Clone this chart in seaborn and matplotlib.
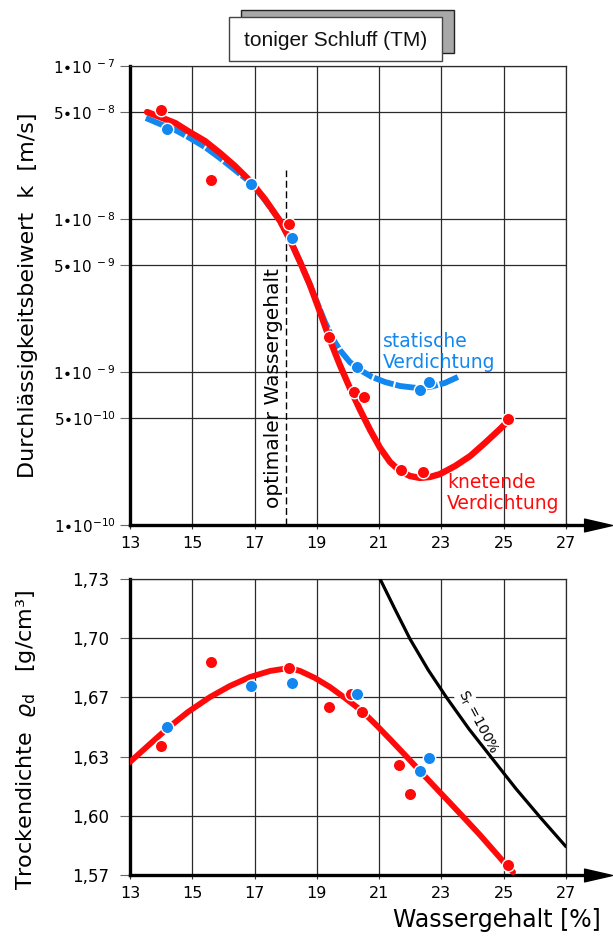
import numpy as np
import matplotlib
matplotlib.use("Agg")
import matplotlib.pyplot as plt
import seaborn as sns
from matplotlib.patches import Rectangle
from matplotlib.path import Path

# ---------------- data ----------------
# x axis: water content [%]
w_ticks = [13, 15, 17, 19, 21, 23, 25, 27]
w_tick_labels = ["13", "15", "17", "19", "21", "23", "25", "27"]

# top panel: permeability k [m/s]
k_ticks = [1e-10, 5e-10, 1e-9, 5e-9, 1e-8, 5e-8, 1e-7]
k_tick_labels = [r"1•10$^{\mathregular{-10}}$", r"5•10$^{\mathregular{-10}}$",
                 r"1•10$^{\mathregular{\ -9}}$", r"5•10$^{\mathregular{\ -9}}$",
                 r"1•10$^{\mathregular{\ -8}}$", r"5•10$^{\mathregular{\ -8}}$",
                 r"1•10$^{\mathregular{\ -7}}$"]

# kneading compaction (red) - measured points
w_knet_k = [14.0, 15.6, 18.1, 19.4, 20.2, 20.5, 21.7, 22.4, 25.15]
k_knet = [5.16e-8, 1.80e-8, 9.3e-9, 1.69e-9, 7.4e-10, 6.9e-10, 2.29e-10, 2.22e-10, 4.93e-10]
# kneading compaction - fitted curve
w_knet_k_fit = [13.55, 13.96, 14.45, 14.86, 15.41, 15.89, 16.37, 16.89, 17.33, 17.82,
                18.14, 18.46, 18.78, 19.10, 19.42, 19.74, 20.06, 20.39, 20.71, 21.03,
                21.35, 21.67, 21.99, 22.31, 22.63, 22.95, 23.44, 23.92, 24.40, 24.88, 25.20]
k_knet_fit = [5.00e-8, 4.64e-8, 4.24e-8, 3.76e-8, 3.23e-8, 2.70e-8, 2.22e-8, 1.745e-8, 1.35e-8, 9.70e-9,
              7.29e-9, 5.24e-9, 3.70e-9, 2.47e-9, 1.62e-9, 1.11e-9, 7.86e-10, 5.64e-10, 4.18e-10, 3.19e-10,
              2.58e-10, 2.25e-10, 2.09e-10, 2.03e-10, 2.06e-10, 2.15e-10, 2.43e-10, 2.82e-10, 3.44e-10,
              4.24e-10, 4.93e-10]

# static compaction (blue) - measured points
w_stat_k = [14.2, 16.9, 18.2, 20.3, 22.3, 22.6]
k_stat = [3.88e-8, 1.69e-8, 7.5e-9, 1.08e-9, 7.6e-10, 8.6e-10]
# static compaction - fitted curve
w_stat_k_fit = [13.51, 13.96, 14.45, 14.86, 15.41, 15.89, 16.37, 16.89, 17.33, 17.82,
                18.14, 18.46, 18.78, 19.04, 19.26, 19.52, 19.74, 20.06, 20.39, 20.77,
                21.19, 21.67, 22.22, 22.63, 23.11, 23.53]
k_stat_fit = [4.57e-8, 4.18e-8, 3.82e-8, 3.44e-8, 2.95e-8, 2.50e-8, 2.09e-8, 1.72e-8, 1.33e-8, 9.70e-9,
              7.29e-9, 5.24e-9, 3.70e-9, 2.74e-9, 2.12e-9, 1.64e-9, 1.39e-9, 1.16e-9, 1.03e-9, 9.28e-10,
              8.60e-10, 8.10e-10, 7.86e-10, 7.98e-10, 8.48e-10, 9.28e-10]

w_opt = 18.0
k_opt_range = [1e-10, 2.1e-8]

# bottom panel: dry density [g/cm3]
rho_ticks = [1.57, 1.602, 1.634, 1.666, 1.698, 1.73]
rho_tick_labels = ["1,57", "1,60", "1,63", "1,67", "1,70", "1,73"]

w_knet_rho = [14.0, 15.6, 18.1, 19.4, 20.1, 20.45, 21.65, 22.0, 25.15]
rho_knet = [1.640, 1.685, 1.682, 1.661, 1.668, 1.658, 1.6295, 1.614, 1.5754]
w_stat_rho = [14.2, 16.9, 18.2, 20.3, 22.3, 22.6]
rho_stat = [1.650, 1.672, 1.674, 1.668, 1.626, 1.633]

w_rho_fit = [13.0, 13.64, 14.22, 14.86, 15.57, 16.21, 16.85, 17.50, 18.11, 18.46,
             18.94, 19.42, 19.90, 20.45, 20.90, 21.35, 21.83, 22.31, 22.79, 23.28,
             23.76, 24.24, 24.72, 25.14, 25.30]
rho_fit = [1.6311, 1.6408, 1.6495, 1.6581, 1.6662, 1.6722, 1.6770, 1.6803, 1.6819, 1.6803,
           1.6765, 1.6716, 1.6657, 1.6586, 1.6512, 1.6434, 1.6349, 1.6262, 1.6176, 1.6089,
           1.6003, 1.5916, 1.5824, 1.5743, 1.5716]

# saturation line Sr = 100 %
w_sat = [21.03, 21.51, 21.99, 22.58, 23.17, 23.89, 24.61, 25.39, 26.17, 27.0]
rho_sat = [1.730, 1.7136, 1.6976, 1.6807, 1.6658, 1.6488, 1.6334, 1.6167, 1.6012, 1.5853]

# ---------------- style ----------------
RED = "#ff0a0a"
BLUE = "#1287ef"
GRID = "#2a2a2a"

sns.set_theme(style="white")
plt.rcParams["font.family"] = ["DejaVu Sans"]
plt.rcParams["mathtext.fontset"] = "dejavusans"

W, H = 613, 938
fig = plt.figure(figsize=(W / 100, H / 100), dpi=100)
fig.patch.set_facecolor("white")

ax1 = fig.add_axes([130 / W, (H - 525) / H, 436 / W, 459 / H])
ax2 = fig.add_axes([130 / W, (H - 875) / H, 436 / W, 296 / H])

arrow_marker = Path([(-1, -0.46), (1, 0), (-1, 0.46), (-1, -0.46)],
                    [Path.MOVETO, Path.LINETO, Path.LINETO, Path.CLOSEPOLY])


def style_axes(ax, ypad):
    ax.set_facecolor("white")
    ax.set_xlim(13, 27)
    ax.set_xticks(w_ticks)
    ax.set_xticklabels(w_tick_labels)
    ax.grid(True, color=GRID, lw=0.9)
    ax.set_axisbelow(True)
    for s in ["top", "right"]:
        ax.spines[s].set_visible(True)
        ax.spines[s].set_color(GRID)
        ax.spines[s].set_linewidth(0.9)
    for s in ["left", "bottom"]:
        ax.spines[s].set_visible(True)
        ax.spines[s].set_color("black")
        ax.spines[s].set_linewidth(2.4)
    ax.tick_params(axis="x", which="both", bottom=True, length=3, width=0.8, color="#333333",
                   labelsize=11.5, pad=5, labelcolor="black")
    ax.tick_params(axis="y", which="major", left=True, length=7, width=0.8, color="#666666",
                   pad=ypad, labelcolor="black")
    ax.tick_params(axis="y", which="minor", left=False)
    # x axis arrow
    ax.plot([1.0, 1.06], [0, 0], transform=ax.transAxes, clip_on=False, color="black",
            lw=2.4, solid_capstyle="butt", zorder=6)
    ax.plot([1.0734], [0], transform=ax.transAxes, clip_on=False, marker=arrow_marker,
            ms=20, color="black", mec="black", zorder=6)


# ---------------- top panel ----------------
sns.lineplot(x=w_stat_k_fit, y=k_stat_fit, ax=ax1, color=BLUE, lw=4.2, estimator=None,
             sort=False, zorder=3, linestyle=(0, (3.5, 0.35)))
sns.lineplot(x=w_knet_k_fit, y=k_knet_fit, ax=ax1, color=RED, lw=4.6, estimator=None,
             sort=False, zorder=3.5)
sns.scatterplot(x=w_stat_k, y=k_stat, ax=ax1, color=BLUE, s=80, edgecolor="white",
                linewidth=1.0, zorder=5)
sns.scatterplot(x=w_knet_k, y=k_knet, ax=ax1, color=RED, s=80, edgecolor="white",
                linewidth=1.0, zorder=5)
ax1.vlines(w_opt, k_opt_range[0], k_opt_range[1], color="black", lw=1.0,
           linestyles=(0, (5, 2.6)), zorder=2)

ax1.set_yscale("log")
ax1.set_ylim(1e-10, 1e-7)
style_axes(ax1, ypad=3)
ax1.yaxis.set_major_locator(matplotlib.ticker.FixedLocator(k_ticks))
ax1.yaxis.set_minor_locator(matplotlib.ticker.NullLocator())
ax1.set_yticklabels(k_tick_labels, fontsize=11)
ax1.set_xlabel("")
ax1.set_ylabel("Durchlässigkeitsbeiwert  k  [m/s]", fontsize=16, color="black")
ax1.yaxis.set_label_coords(-0.211, 0.5)

ax1.text(17.62, 7.85e-10, "optimaler Wassergehalt", rotation=90, ha="center", va="center",
         fontsize=14.5, color="black", zorder=4)
ax1.text(21.12, 1.35e-9, "statische\nVerdichtung", ha="left", va="center", fontsize=13.5,
         color=BLUE, linespacing=1.1, zorder=4)
ax1.text(23.18, 1.62e-10, "knetende\nVerdichtung", ha="left", va="center", fontsize=13.5,
         color=RED, linespacing=1.1, zorder=4)

# ---------------- bottom panel ----------------
sns.lineplot(x=w_sat, y=rho_sat, ax=ax2, color="black", lw=2.3, estimator=None, sort=False,
             zorder=3)
sns.lineplot(x=w_rho_fit, y=rho_fit, ax=ax2, color=RED, lw=4.2, estimator=None, sort=False,
             zorder=3.5)
sns.scatterplot(x=w_knet_rho, y=rho_knet, ax=ax2, color=RED, s=80, edgecolor="white",
                linewidth=1.0, zorder=5)
sns.scatterplot(x=w_stat_rho, y=rho_stat, ax=ax2, color=BLUE, s=80, edgecolor="white",
                linewidth=1.0, zorder=5)

ax2.set_ylim(1.57, 1.73)
style_axes(ax2, ypad=8)
ax2.set_yticks(rho_ticks)
ax2.set_yticklabels(rho_tick_labels, fontsize=12)
ax2.set_xlabel("Wassergehalt [%]", fontsize=17, color="black")
ax2.xaxis.set_label_coords(0.842, -0.112)
ax2.set_ylabel(r"Trockendichte  $\varrho_{\mathregular{d}}$   [g/cm³]", fontsize=16, color="black")
ax2.yaxis.set_label_coords(-0.211, 0.456)

ax2.text(24.18, 1.6527, r"S$_{\mathregular{r}}$ =100%", rotation=-62, ha="center", va="center",
         fontsize=10, color="black", zorder=2.5,
         bbox=dict(fc="white", ec="none", pad=1.0))

# ---------------- title box ----------------
fig.patches.append(Rectangle((241 / W, (H - 53) / H), 213 / W, 43 / H, transform=fig.transFigure,
                             facecolor="#a8a8a8", edgecolor="#222222", lw=1.0, zorder=1))
fig.patches.append(Rectangle((229 / W, (H - 61) / H), 213 / W, 44 / H, transform=fig.transFigure,
                             facecolor="white", edgecolor="#444444", lw=1.0, zorder=2))
fig.text(336 / W, (H - 40) / H, "toniger Schluff (TM)", ha="center", va="center",
         fontsize=15, family=["Liberation Sans", "DejaVu Sans"], color="#111111", zorder=3)

fig.savefig("out.png", dpi=100, facecolor="white")
